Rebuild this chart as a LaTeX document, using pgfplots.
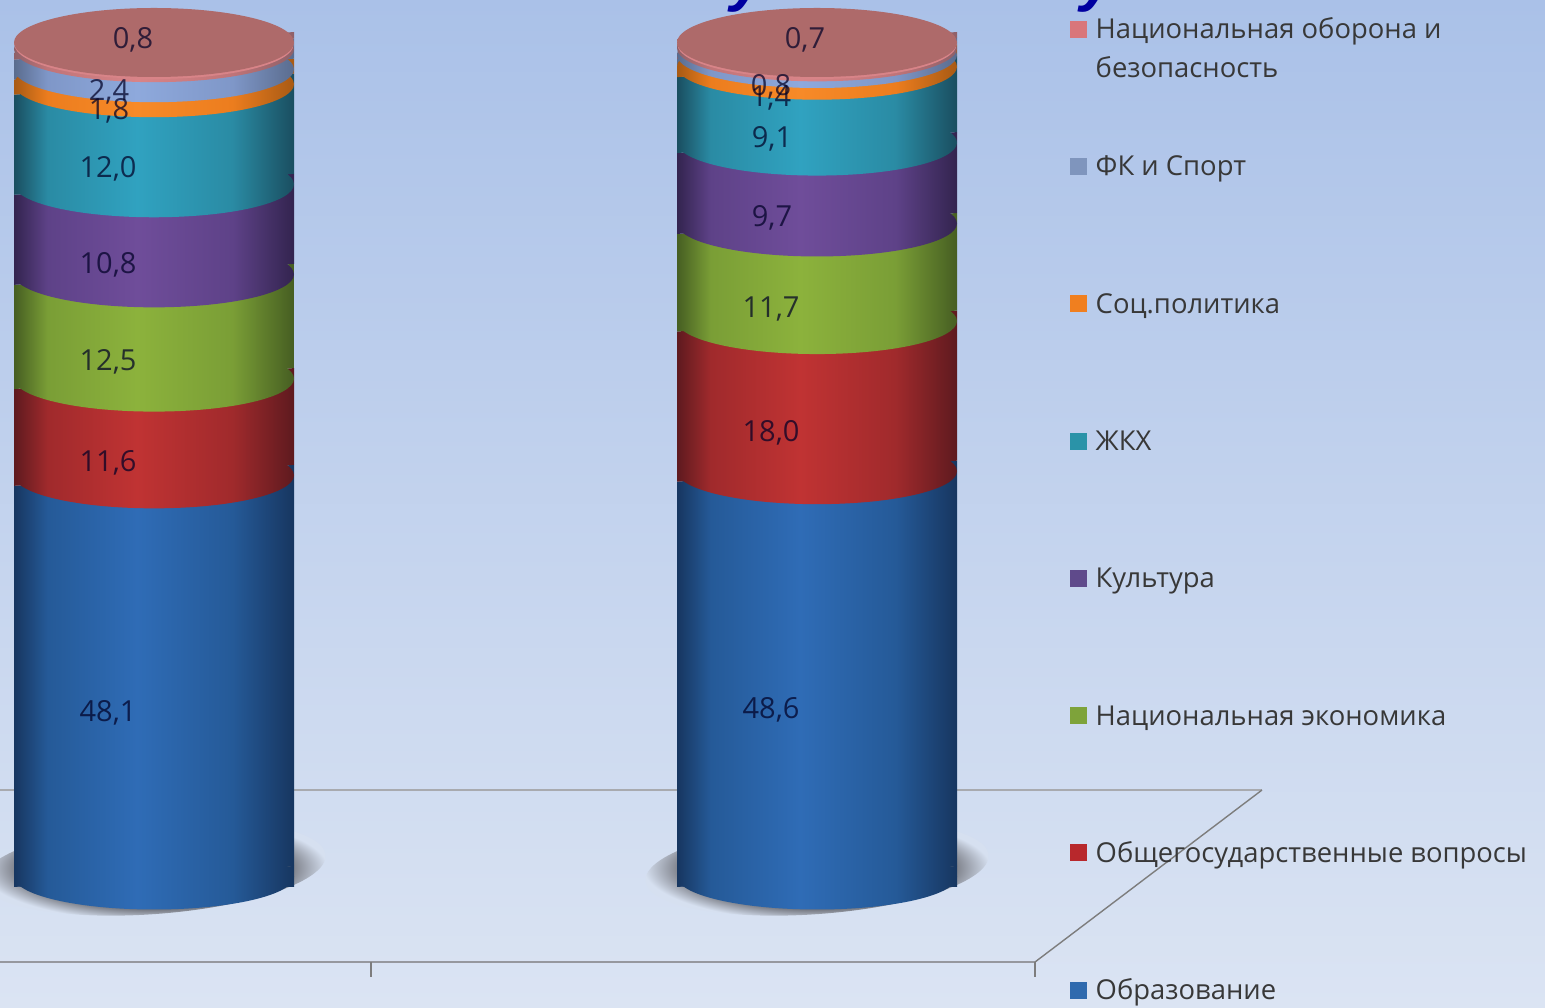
\documentclass[border=0pt]{standalone}
\usepackage{fontspec}
\setmainfont{Open Sans}
\newfontfamily\titlef{Liberation Sans}
\usepackage{pgfplots}
\pgfplotsset{compat=1.18}
\definecolor{aD}{HTML}{173660}\definecolor{aM}{HTML}{255A98}\definecolor{aL}{HTML}{2F6CB6}
\definecolor{bD}{HTML}{5E1A1F}\definecolor{bM}{HTML}{A02A2C}\definecolor{bL}{HTML}{C03333}
\definecolor{cD}{HTML}{465E22}\definecolor{cM}{HTML}{7A9E36}\definecolor{cL}{HTML}{8CB23C}
\definecolor{dD}{HTML}{33244F}\definecolor{dM}{HTML}{5E4288}\definecolor{dL}{HTML}{6F4D9A}
\definecolor{eD}{HTML}{1A4E60}\definecolor{eM}{HTML}{2A8BA4}\definecolor{eL}{HTML}{30A2C0}
\definecolor{fD}{HTML}{A85A14}\definecolor{fM}{HTML}{EC7D1E}\definecolor{fL}{HTML}{F78A28}
\definecolor{gD}{HTML}{5A6C8E}\definecolor{gM}{HTML}{7F97C8}\definecolor{gL}{HTML}{8EA9DC}
\definecolor{hD}{HTML}{8F6068}\definecolor{hM}{HTML}{C07478}\definecolor{hL}{HTML}{D88488}
\definecolor{topc}{HTML}{AE6A6A}
\definecolor{shd}{HTML}{6E7078}\definecolor{shb}{HTML}{D6E0F0}
\definecolor{bgT}{RGB}{170,193,232}\definecolor{bgB}{RGB}{219,228,243}
\definecolor{fl1}{RGB}{168,170,175}\definecolor{fl2}{RGB}{150,152,158}\definecolor{fl3}{RGB}{125,125,125}
\definecolor{lgh}{RGB}{217,118,122}\definecolor{lgg}{RGB}{127,149,189}\definecolor{lgf}{RGB}{240,127,31}
\definecolor{lge}{RGB}{42,147,168}\definecolor{lgd}{RGB}{95,74,139}\definecolor{lgc}{RGB}{126,163,58}
\definecolor{lgb}{RGB}{184,40,44}\definecolor{lga}{RGB}{47,106,174}\definecolor{ttl}{RGB}{0,0,160}
\newcommand\cylshade[1]{\pgfdeclarehorizontalshading{cyl#1}{100bp}{color(0bp)=(#1D);color(25bp)=(#1D);color(31bp)=(#1M);color(47bp)=(#1L);color(64bp)=(#1M);color(75bp)=(#1D);color(100bp)=(#1D)}}
\cylshade{a}\cylshade{b}\cylshade{c}\cylshade{d}\cylshade{e}\cylshade{f}\cylshade{g}\cylshade{h}
\pgfdeclarehorizontalshading{flattop}{100bp}{color(0bp)=(topc);color(100bp)=(topc)}
\pgfdeclarehorizontalshading{flatrim}{100bp}{color(0bp)=(hL);color(100bp)=(hL)}
\pgfdeclareradialshading{softshadow}{\pgfpointorigin}{color(0bp)=(shd);color(19bp)=(shd);color(25bp)=(shb);color(100bp)=(shb)}
\newcommand\cylmark[1]{\pgfdeclareplotmark{ell#1}{\shade[rotate=4.3,shading=cyl#1] (0,0) ellipse [x radius=140pt,y radius=33pt];}}
\cylmark{a}\cylmark{b}\cylmark{c}\cylmark{d}\cylmark{e}\cylmark{f}\cylmark{g}\cylmark{h}
\pgfdeclareplotmark{elltop}{\shade[rotate=4.3,shading=flatrim] (0,-2pt) ellipse [x radius=139.5pt,y radius=34.5pt];\shade[rotate=4.3,shading=flattop] (0,0) ellipse [x radius=140pt,y radius=34.5pt];}
\newcommand\seg[3]{\addplot[draw=none,shade,shading=cyl#1,mark=#2,mark indices={2},mark options={draw=none}] coordinates {(0,#3)(140,#3)(280,#3)} \closedcycle;}
\pgfplotsset{
 colax/.style={hide axis,clip=false,x={(1pt,0.075pt)},y={(0pt,8.34pt)},xmin=0,xmax=280,ymin=0,ymax=100,anchor=origin,stack plots=y,reverse stacked plots=false},
 pxax/.style={at={(0pt,0pt)},anchor=south west,scale only axis,width=1545pt,height=1007pt,xmin=0,xmax=1545,ymin=0,ymax=1007,y dir=reverse,hide axis,clip=false}
}
\begin{document}
\begin{tikzpicture}
\path[use as bounding box,clip] (0pt,0pt) rectangle (1545pt,1007pt);
\shade[top color=bgT,bottom color=bgB] (0pt,0pt) rectangle (1545pt,1007pt);
\begin{axis}[pxax,
  legend image code/.code={\fill[draw=none,#1] (0pt,-12pt) rectangle (17pt,5pt);},
  legend style={at={(axis cs:1070,9)},anchor=north west,draw=none,fill=none,font=\fontsize{27.4}{39}\selectfont,text=black!78,row sep=104.5pt,cells={anchor=west},inner sep=0pt,/tikz/every odd column/.append style={column sep=6.5pt}},
  legend cell align=left]
\addplot[forget plot,color=fl1,line width=2.6pt] coordinates {(0,790)(1262,790)};
\addplot[forget plot,color=fl2,line width=2.6pt] coordinates {(0,962)(1035,962)};
\addplot[forget plot,color=fl3,line width=1.4pt] coordinates {(1262,790)(1035,962)};
\addplot[forget plot,color=fl3,line width=1.4pt] coordinates {(371,962)(371,977)};
\addplot[forget plot,color=fl3,line width=1.4pt] coordinates {(1035,962)(1035,977)};
\shade[shading=softshadow,rotate around={4.3:(axis cs:154,868)}] (axis cs:154,868) ellipse [x radius=172pt,y radius=46pt];
\shade[shading=softshadow,rotate around={4.3:(axis cs:817,868)}] (axis cs:817,868) ellipse [x radius=172pt,y radius=46pt];
\addlegendimage{fill=lgh}
\addlegendentry{\strut\smash{\parbox[t]{440pt}{Национальная оборона и\\[0pt]\strut безопасность}}}
\addlegendimage{fill=lgg}\addlegendentry{\strut ФК и Спорт}
\addlegendimage{fill=lgf}\addlegendentry{\strut Соц.политика}
\addlegendimage{fill=lge}\addlegendentry{\strut ЖКХ}
\addlegendimage{fill=lgd}\addlegendentry{\strut Культура}
\addlegendimage{fill=lgc}\addlegendentry{\strut Национальная экономика}
\addlegendimage{fill=lgb}\addlegendentry{\strut Общегосударственные вопросы}
\addlegendimage{fill=lga}\addlegendentry{\strut Образование}
\end{axis}
% left column
\begin{axis}[colax,at={(14pt,120pt)}]
\seg{a}{ella}{0}
\seg{a}{ellb}{48.1}
\seg{b}{ellc}{11.6}
\seg{c}{elld}{12.5}
\seg{d}{elle}{10.8}
\seg{e}{ellf}{12.0}
\seg{f}{ellg}{1.8}
\seg{g}{ellh}{2.4}
\seg{h}{elltop}{0.8}
\end{axis}
% right column
\begin{axis}[colax,at={(677pt,120pt)}]
\seg{a}{ella}{0}
\seg{a}{ellb}{48.6}
\seg{b}{ellc}{18.0}
\seg{c}{elld}{11.7}
\seg{d}{elle}{9.7}
\seg{e}{ellf}{9.1}
\seg{f}{ellg}{1.4}
\seg{g}{ellh}{0.8}
\seg{h}{elltop}{0.7}
\end{axis}
% data labels and the cut-off title
\begin{axis}[pxax]
\begin{scope}[every node/.style={font=\fontsize{29}{32}\selectfont,text=black!85!blue,text opacity=0.72,inner sep=0pt}]
\node at (axis cs:133,40) {0,8};\node at (axis cs:109,92) {2,4};\node at (axis cs:109,111) {1,8};
\node at (axis cs:108,169) {12,0};\node at (axis cs:108,265) {10,8};\node at (axis cs:108,362) {12,5};
\node at (axis cs:108,463) {11,6};\node at (axis cs:108,713) {48,1};
\node at (axis cs:805,40) {0,7};\node at (axis cs:771,87) {0,8};\node at (axis cs:771,98) {1,4};
\node at (axis cs:772,139) {9,1};\node at (axis cs:772,218) {9,7};\node at (axis cs:771,309) {11,7};
\node at (axis cs:771,433) {18,0};\node at (axis cs:771,710) {48,6};
\end{scope}
\begin{scope}[every node/.style={font=\titlef\bfseries\itshape\fontsize{62}{66}\selectfont,text=ttl,inner sep=0pt,anchor=base}]
\node at (axis cs:612,-9) {,};
\node at (axis cs:748,0) {у};
\node at (axis cs:1098,0) {у};
\end{scope}
\end{axis}
\end{tikzpicture}
\end{document}
